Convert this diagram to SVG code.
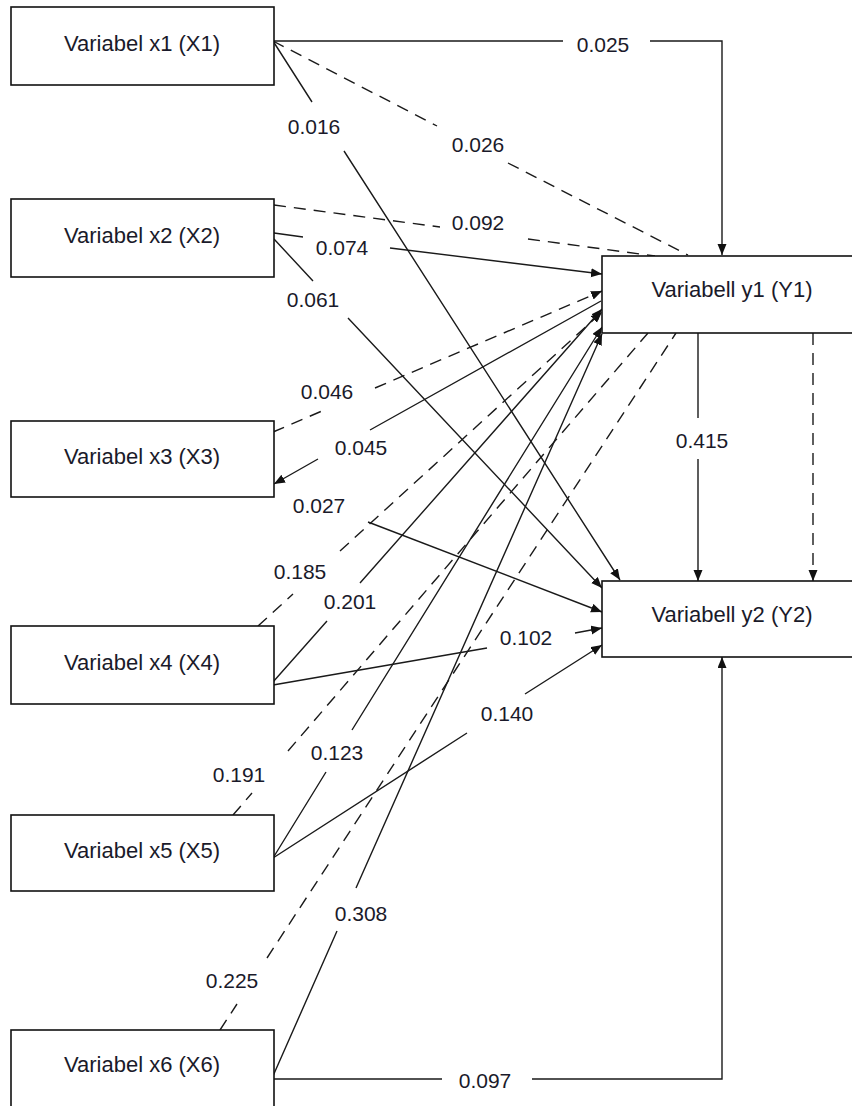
<svg xmlns="http://www.w3.org/2000/svg" width="852" height="1106" viewBox="0 0 852 1106">
  <defs>
    <marker id="arr" markerUnits="userSpaceOnUse" markerWidth="12" markerHeight="10" refX="11" refY="4.5" orient="auto">
      <path d="M0,0 L11,4.5 L0,9 z" fill="#111"/>
    </marker>
  </defs>
  <style>
    .box { fill: #fff; stroke: #111; stroke-width: 1.6; }
    .nt { font-family: "Liberation Sans", Arial, sans-serif; font-size: 22px; fill: #1a1a2a; text-anchor: middle; }
    .lb { font-family: "Liberation Sans", Arial, sans-serif; font-size: 21px; fill: #1a1a2a; text-anchor: middle; }
    .ln { fill: none; stroke: #1a1a1a; stroke-width: 1.4; }
    .ds { stroke-dasharray: 12 8; }
    .ah { marker-end: url(#arr); }
  </style>
  <rect width="852" height="1106" fill="#fff"/>

  <g id="connectors">
    <path class="ln ah" d="M273,41 H563 M650,41 H722 V255"/>
    <path class="ln ds" d="M273,41 L437,126 M508,163 L688,255"/>
    <path class="ln ah" d="M273,41 L312,102 M344,151 L620,580"/>
    <path class="ln ds" d="M274,205 L440,227 M528,239 L655,256"/>
    <path class="ln ah" d="M274,233 L303,237 M390,248 L602,274"/>
    <path class="ln ah" d="M274,239 L313,281 M348,318 L602,588"/>
    <path class="ln ds ah" d="M273,432 L322,411 M375,388 L602,291"/>
    <path class="ln ah" d="M601,301 L370,430 M318,459 L274,484"/>
    <path class="ln ah" d="M368,522 L602,612"/>
    <path class="ln ds ah" d="M258,626 L293,594 M340,551 L602,312"/>
    <path class="ln ah" d="M273,682 L327,621 M360,583 L602,309"/>
    <path class="ln ah" d="M273,685 L487,648 M575,633 L602,628"/>
    <path class="ln ds" d="M233,815 L252,793 M288,751 L648,333"/>
    <path class="ln ah" d="M273,858 L326,772 M352,730 L602,327"/>
    <path class="ln ah" d="M273,858 L467,733 M525,694 L602,645"/>
    <path class="ln ds" d="M220,1030 L237,1004 M267,958 L676,333"/>
    <path class="ln ah" d="M273,1076 L337,931 M356,888 L602,334"/>
    <path class="ln ah" d="M273,1079 H442 M532,1079 H722 V657"/>
    <path class="ln ah" d="M698,333 V418 M698,459 V581"/>
    <path class="ln ds ah" d="M813,333 V581"/>
  </g>

  <g id="labels">
    <text class="lb" x="603" y="52">0.025</text>
    <text class="lb" x="478" y="152">0.026</text>
    <text class="lb" x="314" y="134">0.016</text>
    <text class="lb" x="478" y="230">0.092</text>
    <text class="lb" x="342" y="255">0.074</text>
    <text class="lb" x="313" y="307">0.061</text>
    <text class="lb" x="327" y="399">0.046</text>
    <text class="lb" x="361" y="455">0.045</text>
    <text class="lb" x="319" y="513">0.027</text>
    <text class="lb" x="300" y="579">0.185</text>
    <text class="lb" x="350" y="609">0.201</text>
    <text class="lb" x="526" y="645">0.102</text>
    <text class="lb" x="702" y="448">0.415</text>
    <text class="lb" x="507" y="721">0.140</text>
    <text class="lb" x="239" y="782">0.191</text>
    <text class="lb" x="337" y="760">0.123</text>
    <text class="lb" x="361" y="921">0.308</text>
    <text class="lb" x="232" y="988">0.225</text>
    <text class="lb" x="485" y="1088">0.097</text>
  </g>

  <g id="X1"><rect class="box" x="11" y="7" width="263" height="78"/><text class="nt" x="142" y="51">Variabel x1 (X1)</text></g>
  <g id="X2"><rect class="box" x="11" y="199" width="263" height="78"/><text class="nt" x="142" y="243">Variabel x2 (X2)</text></g>
  <g id="X3"><rect class="box" x="11" y="421" width="263" height="76"/><text class="nt" x="142" y="464">Variabel x3 (X3)</text></g>
  <g id="X4"><rect class="box" x="11" y="626" width="263" height="78"/><text class="nt" x="142" y="670">Variabel x4 (X4)</text></g>
  <g id="X5"><rect class="box" x="11" y="815" width="263" height="76"/><text class="nt" x="142" y="858">Variabel x5 (X5)</text></g>
  <g id="X6"><rect class="box" x="11" y="1030" width="263" height="90"/><text class="nt" x="142" y="1072">Variabel x6 (X6)</text></g>
  <g id="Y1"><rect class="box" x="602" y="256" width="260" height="77"/><text class="nt" x="732" y="297">Variabell y1 (Y1)</text></g>
  <g id="Y2"><rect class="box" x="602" y="581" width="260" height="76"/><text class="nt" x="732" y="622">Variabell y2 (Y2)</text></g>
</svg>
